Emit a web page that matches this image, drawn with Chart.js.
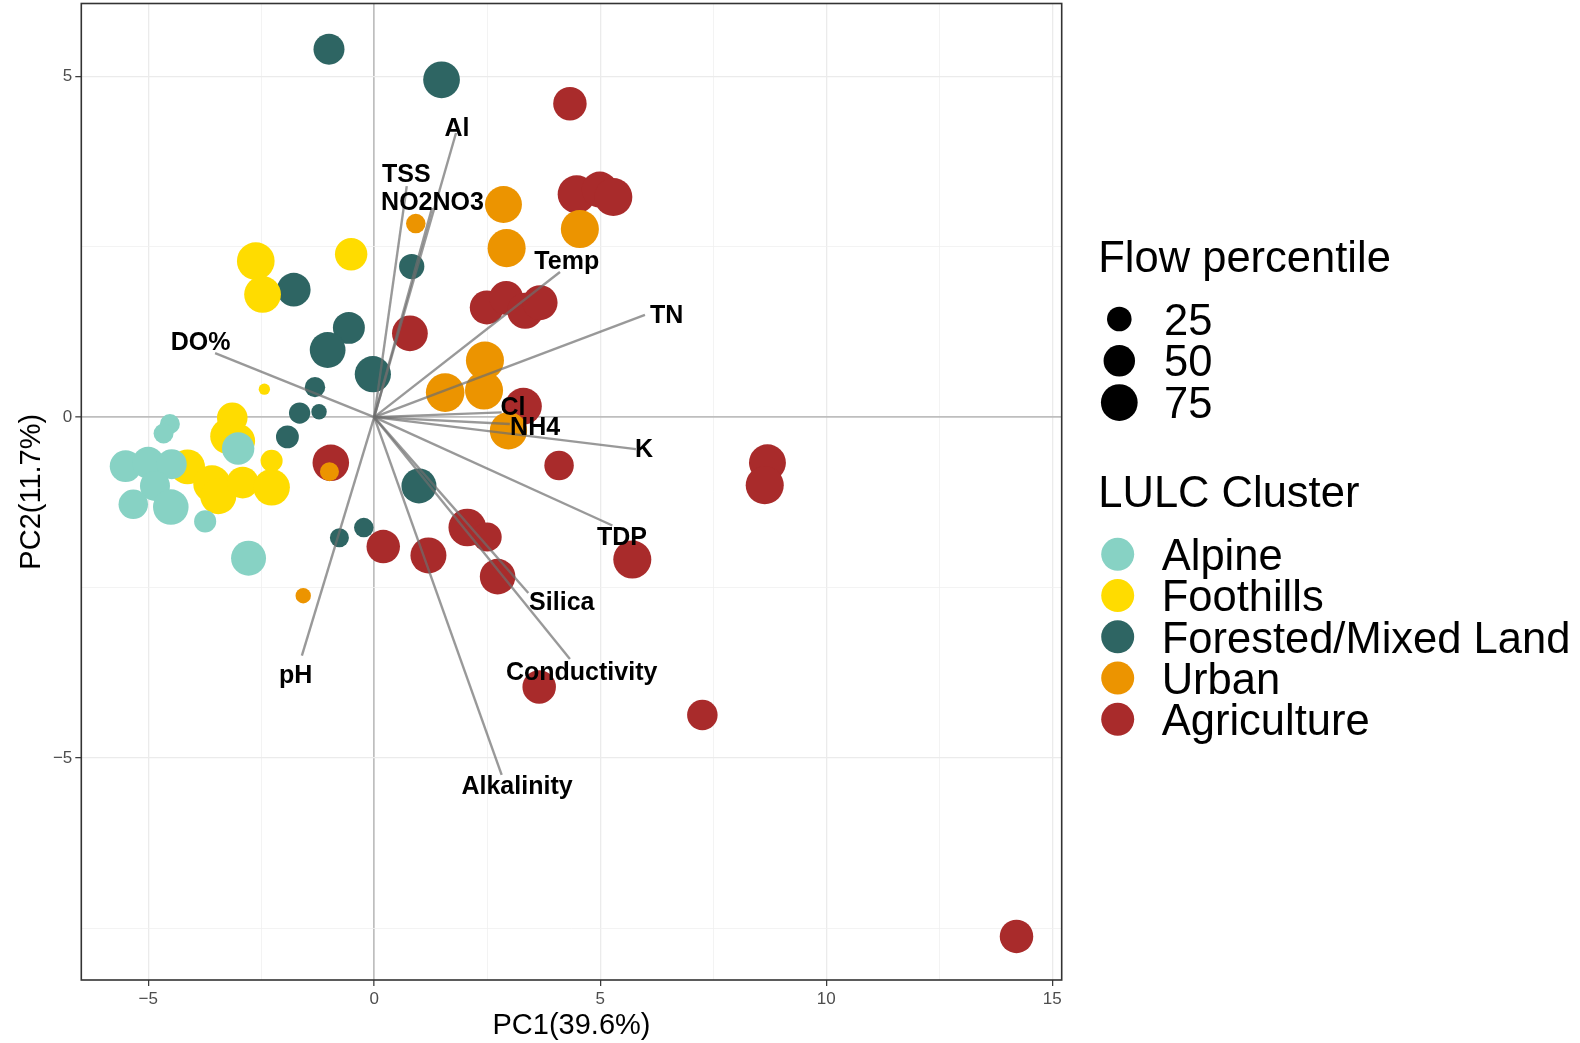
<!DOCTYPE html>
<html>
<head>
<meta charset="utf-8">
<title>PCA biplot</title>
<script src="https://cdn.jsdelivr.net/npm/chart.js@4.4.0/dist/chart.umd.min.js"></script>
<style>
  html, body { margin: 0; padding: 0; background: #fff; }
  #wrap { width: 1580px; height: 1043px; }
</style>
</head>
<body>
<div id="wrap"><canvas id="myChart" width="1580" height="1043"></canvas></div>
<script>
// DATOS
const clusters = ['Alpine', 'Foothills', 'Forested/Mixed Land', 'Urban', 'Agriculture']

const alpineX = [-4.52, -4.66, -5.50, -5.00, -4.48, -4.85, -5.33, -4.50, -3.74, -3.01, -2.78]
const alpineY = [-0.10, -0.24, -0.72, -0.67, -0.69, -1.01, -1.28, -1.32, -1.53, -0.46, -2.07]
const alpineFlow = [13, 13, 51, 52, 44, 44, 42, 69, 18, 54, 66]

const foothillsX = [-0.51, -2.62, -2.47, -2.43, -3.14, -3.23, -3.01, -4.13, -3.59, -3.45, -2.91, -2.27, -2.27]
const foothillsY = [2.39, 2.29, 1.80, 0.41, -0.01, -0.28, -0.35, -0.73, -0.98, -1.16, -0.96, -1.03, -0.64]
const foothillsFlow = [54, 80, 75, 1, 46, 71, 61, 66, 78, 71, 51, 74, 18]

const forestX = [-1.00, 1.49, 0.83, -1.78, -0.56, -1.03, -0.03, -1.31, -1.65, -1.22, -1.92, 0.99, -0.23, -0.77]
const forestY = [5.40, 4.95, 2.21, 1.87, 1.31, 0.985, 0.63, 0.44, 0.06, 0.08, -0.29, -1.01, -1.62, -1.77]
const forestFlow = [48, 75, 27, 60, 52, 70, 72, 14, 16, 5, 20, 66, 12, 11]

const urbanX = [0.92, 2.86, 2.93, 4.55, 2.45, 1.57, 2.43, 2.97, -0.99, -1.57]
const urbanY = [2.84, 3.12, 2.48, 2.76, 0.83, 0.36, 0.39, -0.20, -0.80, -2.62]
const urbanFlow = [12, 76, 82, 82, 82, 85, 82, 78, 11, 5]

const agriX = [4.33, 4.48, 4.99, 5.29, 2.49, 2.92, 3.34, 3.67, 0.79, 3.30, 4.09, 8.70, 8.64, -0.96, 0.20, 1.20, 2.06, 2.50, 2.73, 5.71, 3.65, 7.26, 14.21]
const agriY = [4.60, 3.27, 3.34, 3.23, 1.61, 1.75, 1.56, 1.68, 1.23, 0.16, -0.71, -0.67, -1.00, -0.67, -1.90, -2.03, -1.62, -1.76, -2.34, -2.09, -3.96, -4.37, -7.62]
const agriFlow = [59, 82, 71, 82, 61, 61, 71, 66, 70, 76, 42, 76, 82, 74, 59, 71, 80, 40, 69, 82, 59, 46, 59]

// cargas (flechas)
const varNames = ['Al', 'TSS', 'NO2NO3', 'DO%', 'Temp', 'TN', 'Cl', 'NH4', 'K', 'TDP', 'Silica', 'Conductivity', 'Alkalinity', 'pH']
const loadX = [1.81, 0.72, 1.28, -3.52, 4.11, 5.99, 2.82, 3.00, 5.79, 5.27, 3.41, 4.33, 2.82, -1.60]
const loadY = [4.17, 3.39, 3.07, 0.94, 2.13, 1.50, 0.07, -0.10, -0.47, -1.59, -2.58, -3.55, -5.25, -3.50]
const labelX = [1.83, 0.71, 1.29, -3.84, 4.26, 6.47, 3.07, 3.56, 5.97, 5.48, 4.15, 4.59, 3.16, -1.74]
const labelY = [4.26, 3.58, 3.17, 1.11, 2.31, 1.52, 0.17, -0.13, -0.46, -1.75, -2.70, -3.73, -5.40, -3.77]

const xMajor = [-5, 0, 5, 10, 15]
const xMinor = [-2.5, 2.5, 7.5, 12.5]
const yMajor = [-5, 0, 5]
const yMinor = [-7.5, -2.5, 2.5]
const sizeBreaks = [25, 50, 75]

const colores = ['#87d2c4', '#ffdc00', '#2e6563', '#ec9400', '#a92b2b']
const fam = '"Liberation Sans", Arial, Helvetica, sans-serif'

// tamaño del punto segun percentil de caudal
const sizeOf = v => 4 + 1.66 * Math.sqrt(v)
const fmt = v => v < 0 ? '\u2212' + Math.abs(v) : String(v)

const toPoints = (xs, ys, fl) => xs.map((x, i) => ({ x: x, y: ys[i], flow: fl[i] }))

const series = [
  toPoints(alpineX, alpineY, alpineFlow),
  toPoints(foothillsX, foothillsY, foothillsFlow),
  toPoints(forestX, forestY, forestFlow),
  toPoints(urbanX, urbanY, urbanFlow),
  toPoints(agriX, agriY, agriFlow)
]

const gridOpts = (major) => ({
  color: c => {
    if (!c.tick) return '#ebebeb'
    if (c.tick.value === 0) return '#bebebe'
    return major.includes(c.tick.value) ? '#ebebeb' : '#f0f0f0'
  },
  lineWidth: c => {
    if (!c.tick) return 1
    if (c.tick.value === 0) return 1.7
    return major.includes(c.tick.value) ? 1.3 : 0.8
  },
  tickColor: c => (c.tick && major.includes(c.tick.value)) ? '#333333' : 'rgba(0,0,0,0)',
  tickLength: 6,
  tickWidth: 1.2
})

const biplot = {
  id: 'biplot',
  afterDatasetsDraw(chart) {
    const { ctx, chartArea, scales } = chart
    const x = scales.x, y = scales.y
    ctx.save()
    ctx.beginPath()
    ctx.rect(chartArea.left, chartArea.top, chartArea.right - chartArea.left, chartArea.bottom - chartArea.top)
    ctx.clip()
    // flechas
    ctx.strokeStyle = 'rgba(110,110,110,0.7)'
    ctx.lineWidth = 2.4
    const x0 = x.getPixelForValue(0), y0 = y.getPixelForValue(0)
    loadX.forEach((lx, i) => {
      ctx.beginPath()
      ctx.moveTo(x0, y0)
      ctx.lineTo(x.getPixelForValue(lx), y.getPixelForValue(loadY[i]))
      ctx.stroke()
    })
    // etiquetas
    ctx.fillStyle = '#000'
    ctx.font = 'bold 25px ' + fam
    ctx.textAlign = 'center'
    ctx.textBaseline = 'alphabetic'
    varNames.forEach((n, i) => {
      ctx.fillText(n, x.getPixelForValue(labelX[i]), y.getPixelForValue(labelY[i]) + 9)
    })
    ctx.restore()

    // borde del panel
    ctx.save()
    ctx.strokeStyle = '#333333'
    ctx.lineWidth = 1.6
    ctx.strokeRect(chartArea.left, chartArea.top, chartArea.right - chartArea.left, chartArea.bottom - chartArea.top)
    ctx.restore()
  },
  afterDraw(chart) {
    const { ctx, chartArea } = chart
    ctx.save()
    ctx.fillStyle = '#000'
    // titulos de ejes
    ctx.font = '29px ' + fam
    ctx.textAlign = 'center'
    ctx.textBaseline = 'alphabetic'
    ctx.fillText('PC1(39.6%)', (chartArea.left + chartArea.right) / 2, 1034)
    ctx.save()
    ctx.translate(39.5, (chartArea.top + chartArea.bottom) / 2)
    ctx.rotate(-Math.PI / 2)
    ctx.fillText('PC2(11.7%)', 0, 0)
    ctx.restore()

    // LEYENDA
    ctx.textAlign = 'left'
    ctx.font = '43.5px ' + fam
    ctx.fillText('Flow percentile', 1098.3, 272.3)
    sizeBreaks.forEach((b, i) => {
      const cy = 319 + i * 41.8
      ctx.beginPath()
      ctx.arc(1119.3, cy, sizeOf(b), 0, Math.PI * 2)
      ctx.fill()
      ctx.fillText(String(b), 1164, cy + 15.5)
    })
    ctx.fillText('LULC Cluster', 1098.3, 506.7)
    clusters.forEach((c, i) => {
      const cy = 554.3 + i * 41.25
      ctx.fillStyle = colores[i]
      ctx.beginPath()
      ctx.arc(1117.7, cy, 16.5, 0, Math.PI * 2)
      ctx.fill()
      ctx.fillStyle = '#000'
      ctx.fillText(c, 1161.7, cy + 15.7)
    })
    ctx.restore()
  }
}

const ctx = document.getElementById('myChart').getContext('2d')
const myChart = new Chart(ctx, {
  type: 'scatter',
  data: {
    datasets: series.map((pts, i) => ({
      label: clusters[i],
      data: pts,
      backgroundColor: colores[i],
      pointBackgroundColor: colores[i],
      pointBorderWidth: 0,
      borderWidth: 0,
      pointRadius: c => sizeOf(c.raw.flow),
      pointHoverRadius: c => sizeOf(c.raw.flow)
    }))
  },
  options: {
    responsive: false,
    devicePixelRatio: 1,
    animation: false,
    events: [],
    layout: { autoPadding: false, padding: { left: 0, right: 518.3, top: 3.5, bottom: 0 } },
    plugins: { legend: { display: false }, tooltip: { enabled: false } },
    scales: {
      x: {
        type: 'linear',
        min: -6.48,
        max: 15.21,
        afterBuildTicks: a => { a.ticks = xMajor.concat(xMinor).sort((p, q) => p - q).map(v => ({ value: v })) },
        afterFit: a => { a.height = 63; a.paddingLeft = 0; a.paddingRight = 0 },
        grid: gridOpts(xMajor),
        border: { display: false },
        ticks: {
          callback: v => xMajor.includes(v) ? fmt(v) : '',
          color: '#4d4d4d',
          font: { size: 17, family: fam },
          padding: 3,
          maxRotation: 0,
          autoSkip: false
        }
      },
      y: {
        type: 'linear',
        min: -8.26,
        max: 6.07,
        afterBuildTicks: a => { a.ticks = yMajor.concat(yMinor).sort((p, q) => p - q).map(v => ({ value: v })) },
        afterFit: a => { a.width = 81.3; a.paddingTop = 0; a.paddingBottom = 0 },
        grid: gridOpts(yMajor),
        border: { display: false },
        ticks: {
          callback: v => yMajor.includes(v) ? fmt(v) : '',
          color: '#4d4d4d',
          font: { size: 17, family: fam },
          padding: 3,
          autoSkip: false
        }
      }
    }
  },
  plugins: [biplot]
})
</script>
</body>
</html>
